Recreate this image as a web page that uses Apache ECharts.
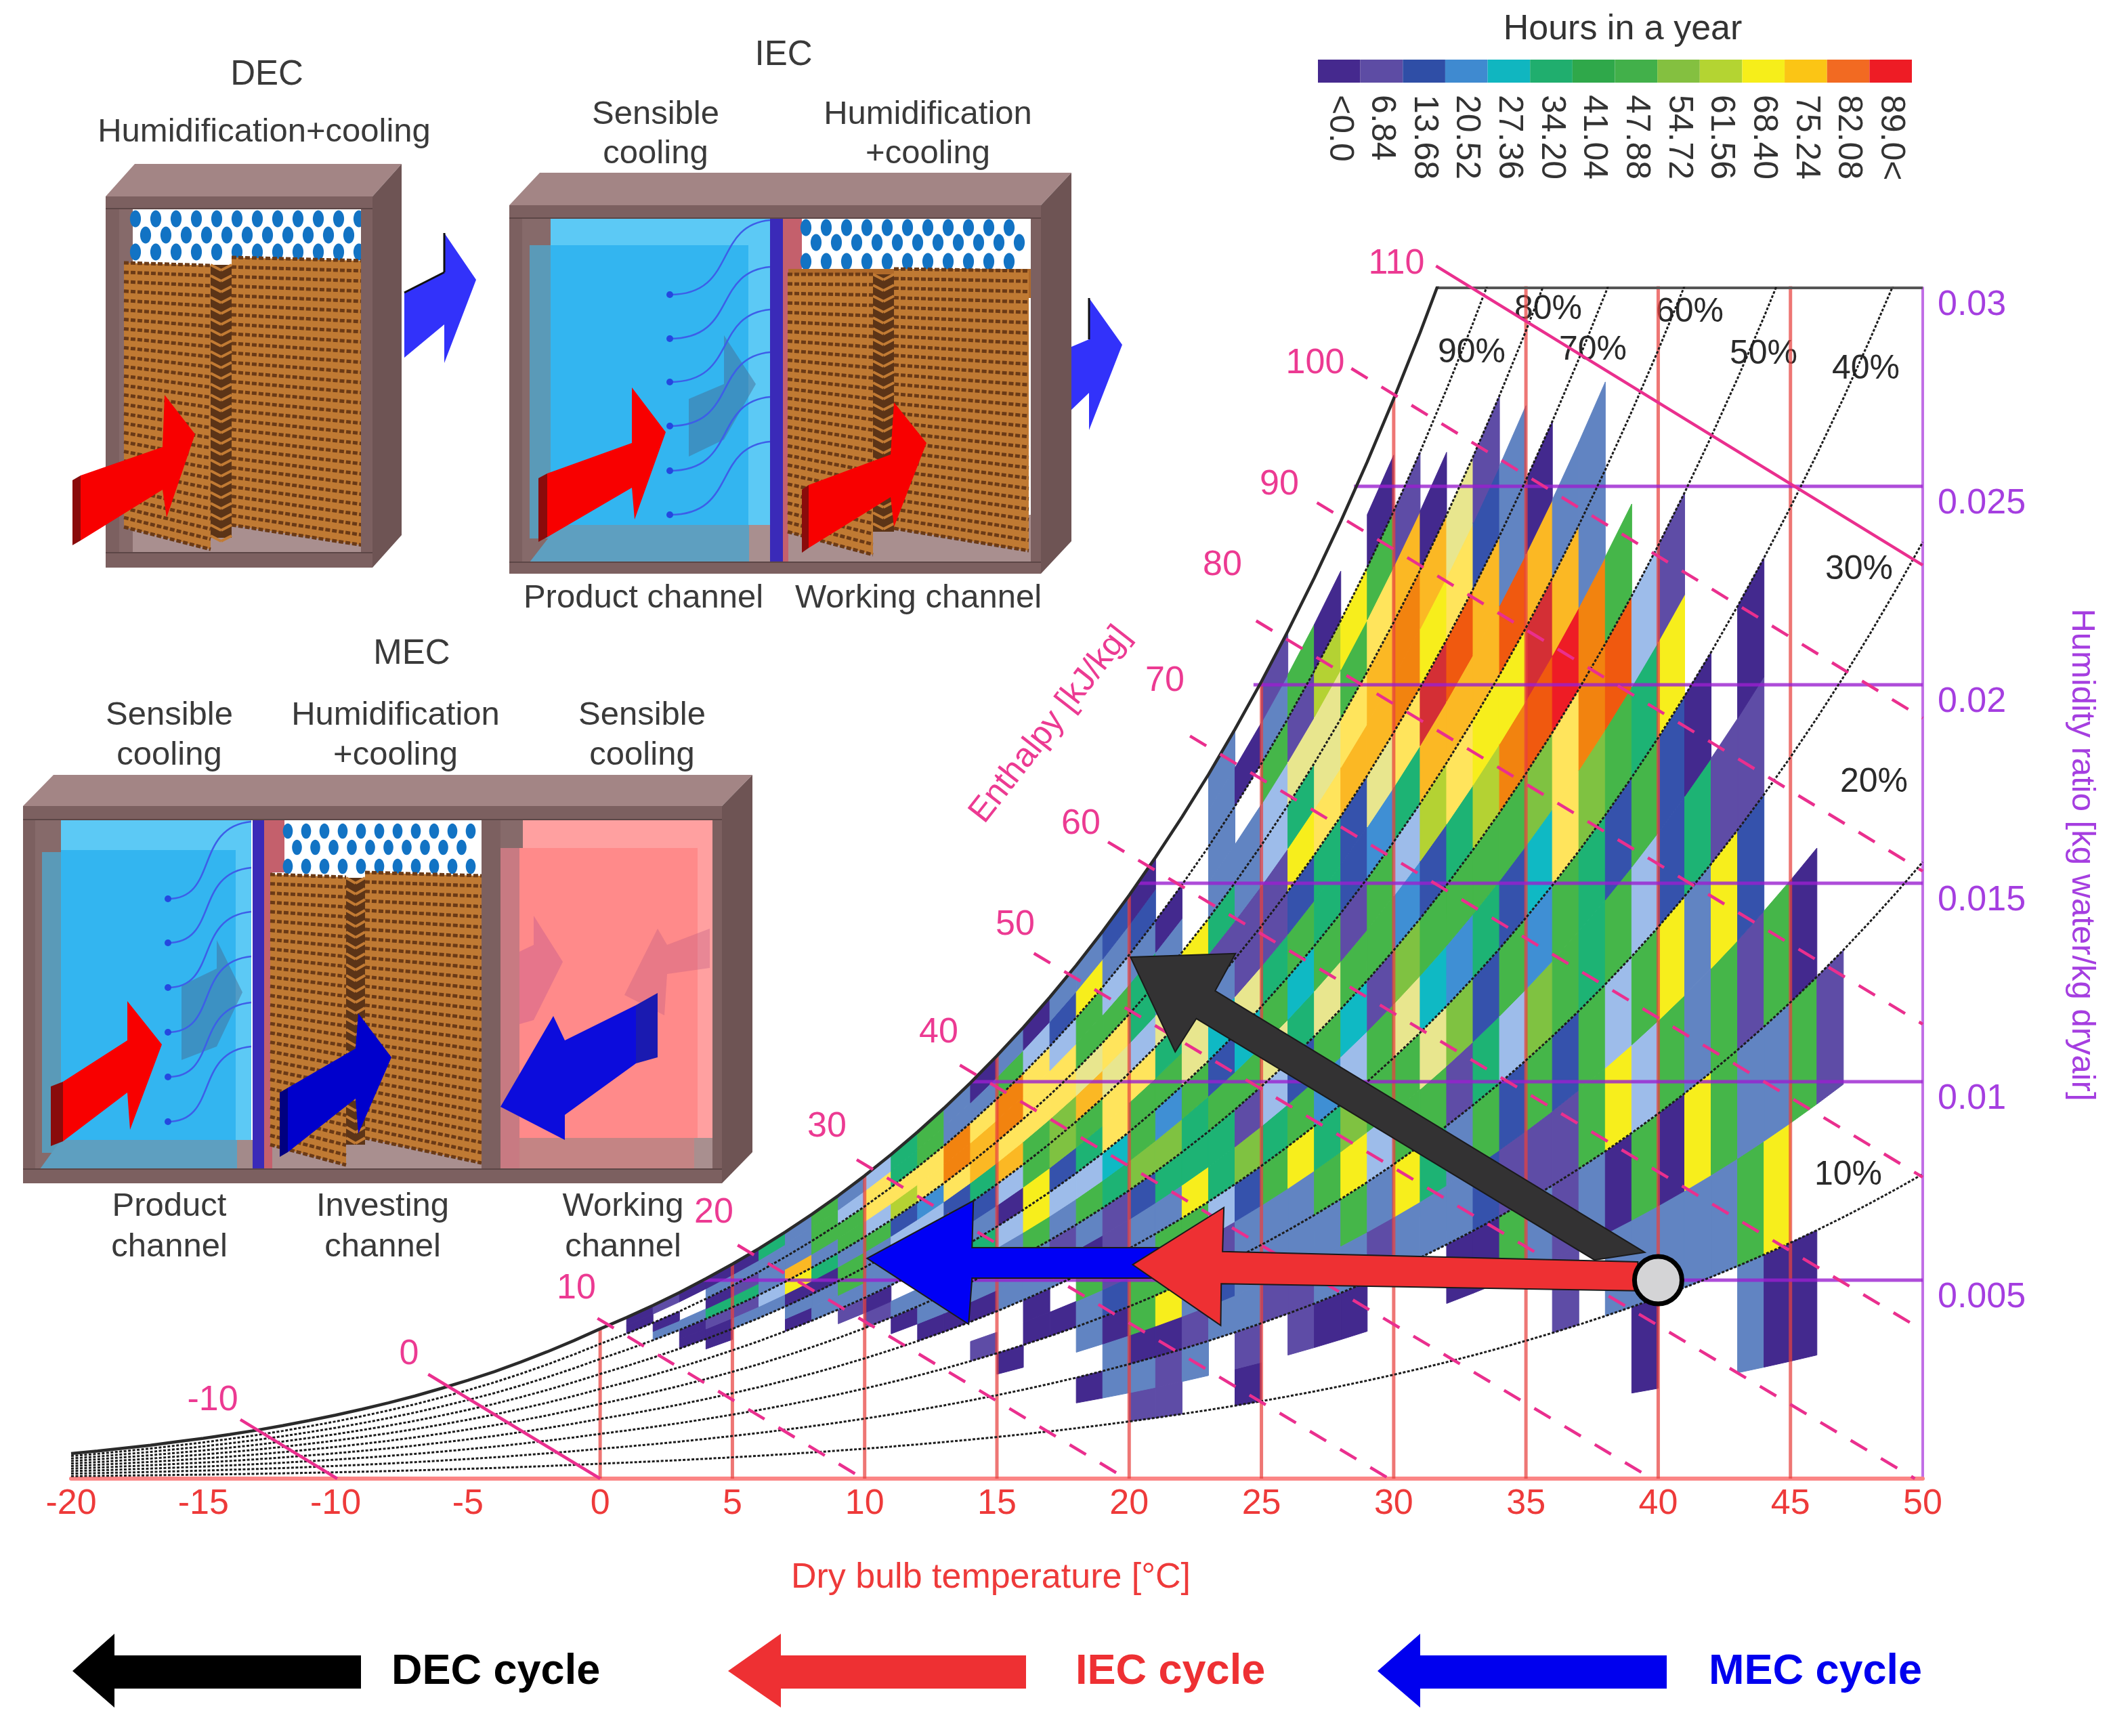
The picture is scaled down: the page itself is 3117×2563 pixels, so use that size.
<!DOCTYPE html>
<html><head><meta charset="utf-8">
<script src="https://cdn.jsdelivr.net/npm/echarts@6/dist/echarts.min.js"></script>
<style>html,body{margin:0;padding:0;background:#fff}#c{width:3117px;height:2563px}</style>
</head><body><div id="c"></div>
<script>
// ---------- axes ----------
const xTickMin = -20, xTickMax = 50, xTickStep = 5;
const yTickMax = 0.03, yTickStep = 0.005;
// saturation vapour pressure [kPa] at each degree from -20 to 50 (psychrometric table)
const satPressure = [.103,.113,.125,.137,.151,.165,.181,.198,.217,.238,.260,.284,.310,.338,.369,.402,.437,.476,.518,.563,
 .611,.657,.706,.758,.814,.873,.935,1.002,1.073,1.148,1.228,1.313,1.403,1.498,1.599,1.706,1.819,1.938,2.064,2.198,
 2.339,2.488,2.645,2.810,2.985,3.169,3.363,3.567,3.782,4.008,4.246,4.495,4.758,5.034,5.323,5.627,5.945,6.280,6.630,6.997,
 7.381,7.784,8.205,8.646,9.108,9.590,10.094,10.620,11.171,11.745,12.344];
const rhCurves = [10,20,30,40,50,60,70,80,90];
const verticalTemps = [0,5,10,15,20,25,30,35,40,45];
const isoHumidity = [[.005,3.9],[.01,14.05],[.015,20.3],[.02,24.7],[.025,28.5]];
// enthalpy line: [h, starting dry-bulb temperature]
const enthalpyLines = [[-10,-13.6],[0,-6.5],[10,-.1],[20,5.2],[30,9.7],[40,13.6],[50,16.4],[60,19.2],[70,22.3],[80,24.8],[90,27.1],[100,28.4],[110,31.6]];
const solidEnthalpy = [-10,0,110];

// ---------- legend ----------
const legendLabels = ['<0.0','6.84','13.68','20.52','27.36','34.20','41.04','47.88','54.72','61.56','68.40','75.24','82.08','89.0<'];
const legendColors = ['#45298e','#5d4ca4','#2f4ea6','#3f8ad0','#10b6c0','#20ae6e','#2fa84a','#42b04a','#84c040','#b4d432','#f6ee1a','#fbc515','#f26a22','#ee1c25'];

// ---------- heat cells: hours per 5 %RH bin (5-10, 10-15 ... 95-100), one list per 1 degC column ----------
const tempBins = [1,2,3,4,5,6,7,8,9,10,11,12,13,14,15,16,17,18,19,20,21,22,23,24,25,26,27,28,29,30,31,32,33,34,35,36,37,38,39,40,41,42,43,44,45,46];
const hoursByTemp = [
 [0,0,0,0,0,0,0,0,0,0,0,0,0,0,0,0,0,3,3],
 [0,0,0,0,0,0,0,0,0,0,0,0,0,0,0,14,3,0,7],
 [0,0,0,0,0,0,0,0,0,0,0,0,0,3,3,14,0,0,3],
 [0,0,0,0,0,0,0,0,0,0,0,0,3,3,7,33,3,14,3],
 [0,0,0,0,0,0,0,0,0,0,0,0,0,14,7,33,7,14,3],
 [0,0,0,0,0,0,0,0,0,0,0,0,0,14,18,14,14,14,33],
 [0,0,0,0,0,0,0,0,0,0,0,3,14,3,68,74,14,14,14],
 [0,0,0,0,0,0,0,0,0,0,0,14,14,3,33,14,41,41,41],
 [0,0,0,0,0,0,0,0,0,0,7,14,41,41,14,41,41,18,14],
 [0,0,0,0,0,0,0,0,0,7,3,14,14,14,41,18,64,64,18],
 [0,0,0,0,0,0,0,0,3,14,0,14,14,18,10,57,64,33,33],
 [0,0,0,0,0,0,0,3,14,14,14,14,14,18,21,64,64,41,41],
 [0,0,0,0,0,0,0,3,14,14,10,10,10,10,64,78,78,14,14],
 [0,0,0,0,0,7,0,3,14,14,33,14,10,33,74,74,64,14,3],
 [0,0,0,0,3,0,0,14,14,14,18,3,18,74,64,78,78,41,14],
 [0,0,0,0,0,3,3,14,14,41,68,68,41,41,64,64,64,18,3],
 [0,0,0,0,0,3,0,14,7,14,18,10,50,50,64,64,18,10,14],
 [0,0,3,0,14,14,41,3,14,41,18,33,41,74,60,41,41,68,14],
 [0,0,14,14,3,10,7,7,7,33,27,64,64,60,64,41,18,14,10],
 [0,7,14,3,41,41,14,14,10,50,41,41,64,18,33,33,14,10,3],
 [0,7,7,3,68,41,41,14,33,50,21,41,33,60,14,14,3,0,0],
 [0,0,14,7,14,10,41,68,33,33,41,60,60,14,68,0,0,0,0],
 [0,0,0,14,10,7,18,33,33,41,10,27,14,7,33,14,14,14,14],
 [0,3,7,14,14,14,10,50,7,41,27,60,7,7,14,14,0,3,0],
 [0,0,0,7,14,14,41,33,18,60,41,33,7,7,18,18,41,14,7],
 [0,0,7,7,14,14,68,41,10,33,27,41,10,68,33,60,7,41,0],
 [0,0,3,14,14,41,33,21,41,60,41,33,33,64,60,60,57,3,0],
 [0,0,3,14,41,68,50,18,27,41,7,10,10,74,64,41,68,0,0],
 [0,0,0,7,14,18,41,41,7,41,41,21,60,74,74,64,41,3,0],
 [0,0,0,14,68,41,41,60,50,21,18,33,64,78,78,74,7,0,0],
 [0,0,0,14,33,41,60,27,41,10,57,74,85,68,74,3,0,0,0],
 [0,0,3,14,14,7,50,21,41,33,64,74,82,64,60,0,0,0,0],
 [0,0,3,10,41,33,10,33,41,57,68,74,74,10,7,0,0,0,0],
 [0,0,41,7,10,18,41,10,41,78,68,82,14,14,0,0,0,0,0],
 [0,0,14,7,41,50,21,27,50,82,85,74,3,0,0,0,0,0,0],
 [0,7,7,7,10,41,41,64,64,89,74,14,0,0,0,0,0,0,0],
 [0,0,14,41,41,33,33,50,78,78,14,14,0,0,0,0,0,0,0],
 [0,14,3,68,18,41,10,41,82,41,0,0,0,0,0,0,0,0,0],
 [3,14,41,18,41,18,41,33,18,0,0,0,0,0,0,0,0,0,0],
 [0,14,3,41,68,10,10,68,7,0,0,0,0,0,0,0,0,0,0],
 [0,14,68,14,14,33,3,0,0,0,0,0,0,0,0,0,0,0,0],
 [0,14,41,41,68,7,0,0,0,0,0,0,0,0,0,0,0,0,0],
 [14,41,14,7,10,7,3,0,0,0,0,0,0,0,0,0,0,0,0],
 [3,68,14,41,0,0,0,0,0,0,0,0,0,0,0,0,0,0,0],
 [3,0,41,3,0,0,0,0,0,0,0,0,0,0,0,0,0,0,0],
 [0,0,7,0,0,0,0,0,0,0,0,0,0,0,0,0,0,0,0]
];
const hourBreaks = [5,9,12,16,20,24,30,37,45,54,59,62,66,71,76,80,84,87];
const hourColors = ['#43298e','#5e4ca6','#3552ac','#6184c2','#9dbcea','#3f8fd4','#0fb9c4','#1db374','#45b649','#7fc241','#b4d233','#e8e68e','#ffe45c','#f7ee1c','#fbb824','#f2830f','#f0590f','#d42f35','#ee1c25'];

// ---------- cycle arrows on the chart: [dry-bulb, humidity ratio] ----------
const decArrow = [[20.05,.01314],[24.02,.01323],[23.25,.01229],[39.49,.0057],[37.59,.00551],[22.54,.01159],[21.74,.01075]];
const mecArrow = [[10.09,.00555],[14.11,.007],[14.06,.00582],[21.36,.00582],[21.36,.00505],[14.06,.00505],[13.93,.00389]];
const iecArrow = [[20.13,.00539],[23.58,.00683],[23.53,.00572],[39.23,.00546],[39.23,.00473],[23.48,.00491],[23.46,.00386]];
const startPoint = [40,.005];

// ---------- helpers ----------
const FONT = '"Liberation Sans",Arial,sans-serif';
const P = 101.325;
const wOf = (T,rh)=>{const pv=satPressure[Math.round(T)+20]*rh/100;return .622*pv/(P-pv);};
const colorOf = v=>{let i=0;while(i<hourBreaks.length&&v>=hourBreaks[i])i++;return hourColors[i];};
const tempsAll = satPressure.map((_,i)=>i-20);

const cells=[];
hoursByTemp.forEach((col,c)=>col.forEach((h,b)=>{if(h>0)cells.push([tempBins[c],b,h]);}));

const series=[];
series.push({type:'custom',z:2,silent:true,data:cells,encode:{x:0},clip:false,
 renderItem:(p,api)=>{
  const T=api.value(0),b=api.value(1),h=api.value(2),r0=5+5*b,r1=r0+5;
  const pts=[[T,wOf(T,r0)],[T+1,wOf(T+1,r0)],[T+1,wOf(T+1,r1)],[T,wOf(T,r1)]].map(q=>api.coord(q));
  const col=colorOf(h);
  return {type:'polygon',shape:{points:pts},style:{fill:col,stroke:col,lineWidth:1}};
 }});
const ln=(data,color,width,type,z,clip,op)=>({type:'line',data,symbol:'none',silent:true,z,clip,animation:false,
  lineStyle:{color,width,type:type||'solid',opacity:op==null?1:op}});
// vertical dry-bulb lines
verticalTemps.forEach(t=>series.push(ln([[t,0],[t,wOf(t,100)]],'#e8413f',5,'solid',3,true,.72)));
// humidity-ratio lines
isoHumidity.forEach(d=>series.push(ln([[d[1],d[0]],[50,d[0]]],'#9a1fd0',5,'solid',3,true,.8)));
series.push(ln([[31.6,.03],[50,.03]],'#555',4,'solid',3,false));
// RH curves
rhCurves.forEach(r=>series.push(ln(tempsAll.map(t=>[t,wOf(t,r)]),'#1c1c1c',3,[4,2.5],4,true)));
series.push(ln(tempsAll.map(t=>[t,wOf(t,100)]),'#2a2a2a',4.5,'solid',4,true));
// enthalpy lines
const wFromH=(h,T)=>(h-1.006*T)/(2501+1.86*T);
enthalpyLines.forEach(([h,t0])=>{
 const endT = h<=50? h/1.006 : 50;
 series.push(ln([[t0,wFromH(h,t0)],[endT,Math.max(0,wFromH(h,endT))]],'#ea2f8e',4.5,solidEnthalpy.includes(h)?'solid':[28,24],5,false));
});
// arrows
[[decArrow,'#333233'],[mecArrow,'#0000f5'],[iecArrow,'#ee3033']].forEach(([pts,col],i)=>{
 series.push({type:'custom',z:6+i,silent:true,clip:false,data:[[pts[0][0],pts[0][1]]],encode:{x:0,y:1},
  renderItem:(p,api)=>({type:'polygon',shape:{points:pts.map(q=>api.coord(q))},style:{fill:col,stroke:'#1a1a1a',lineWidth:2}})});
});
series.push({type:'scatter',z:10,silent:true,data:[startPoint],symbolSize:70,itemStyle:{color:'#d4d4d6',borderColor:'#000',borderWidth:7,opacity:1}});
// colour legend
series.push({type:'bar',xAxisIndex:1,yAxisIndex:1,barWidth:'100%',silent:true,
 data:legendColors.map(c=>({value:1,itemStyle:{color:c}}))});

// ---------- graphic: texts & schematic illustrations ----------
const g=[];
const text=(x,y,s,size,color,o={})=>g.push({type:'text',x,y,rotation:o.rot||0,silent:true,
  style:{text:s,x:0,y:0,align:o.align||'center',verticalAlign:'middle',font:`${o.bold?'bold ':''}${size}px ${FONT}`,fill:color}});
const poly=(pts,fill)=>g.push({type:'polygon',silent:true,shape:{points:pts},style:{fill}});
const rect=(x0,y0,x1,y1,fill)=>g.push({type:'rect',silent:true,shape:{x:x0,y:y0,width:x1-x0,height:y1-y0},style:{fill}});
const seg=(x0,y0,x1,y1,col,w,dash)=>g.push({type:'line',silent:true,shape:{x1:x0,y1:y0,x2:x1,y2:y1},style:{stroke:col,lineWidth:w,lineDash:dash||null}});

const WOOD='#7c6060',WOODTOP='#a38585',WOODSIDE='#6e5454',FLOOR='#a98f8f';
function frameBack(x0,y0,x1,y1,dx,dy){
 poly([[x0,y0],[x0+dx,y0-dy],[x1+dx,y0-dy],[x1,y0]],WOODTOP);
 poly([[x1,y0],[x1+dx,y0-dy],[x1+dx,y1-dy],[x1,y1]],WOODSIDE);
 rect(x0,y0,x1,y1,'#fff');
}
function frameFront(x0,y0,x1,y1,tb,bb,lp,rp){
 rect(x0,y0,x1,y0+tb,WOOD);rect(x0,y1-bb,x1,y1,WOOD);rect(x0,y0,x0+lp,y1,WOOD);rect(x1-rp,y0,x1,y1,WOOD);
 seg(x0,y0+tb,x1,y0+tb,'#5c4646',2);seg(x0,y1-bb,x1,y1-bb,'#5c4646',2);
}
function drops(x0,x1,rows,step){
 rows.forEach((y,r)=>{for(let x=x0+(r%2?step/2:0);x<=x1;x+=step){
  g.push({type:'ellipse',silent:true,shape:{cx:x,cy:y,rx:step*.27,ry:step*.42},style:{fill:'#1273c4'}});
 }});
}
function pad(tl,tr,br,bl,step){
 poly([tl,tr,br,bl],'#c07a33');
 const n=Math.round((bl[1]-tl[1])/step);
 for(let i=0;i<=n;i++){
  const f=i/n,xa=tl[0]+(bl[0]-tl[0])*f,ya=tl[1]+(bl[1]-tl[1])*f,xb=tr[0]+(br[0]-tr[0])*f,yb=tr[1]+(br[1]-tr[1])*f;
  seg(xa,ya,xb,yb,'#6b3a16',step*.36,[7,3]);
 }
}
function fold(x0,x1,y0,y1){
 rect(x0,y0,x1,y1,'#5c3417');
 for(let y=y0;y<y1;y+=16){seg(x0,y,x0+(x1-x0)*.5,y+8,'#c27b34',4);seg(x0+(x1-x0)*.5,y+8,x1,y,'#c27b34',4);}
}
function arrow3d(p,fill,dark,w){
 poly([p[0],[p[0][0]+w,p[0][1]-7],[p[6][0]+w,p[6][1]-7],p[6]],dark);
 poly([[p[0][0]+w,p[0][1]-7],p[1],p[2],p[3],p[4],p[5],[p[6][0]+w,p[6][1]-7]],fill);
}
function waves(xd,xe,ys,ye){
 ys.forEach((y0,i)=>{const y1=ye[i];
  g.push({type:'bezierCurve',silent:true,shape:{x1:xd,y1:y0,cpx1:xd-85,cpy1:y0+8,cpx2:xd-48,cpy2:y1,x2:xe,y2:y1},style:{stroke:'#3d5ee8',lineWidth:2.5,fill:'none'}});
  g.push({type:'circle',silent:true,shape:{cx:xe,cy:y1,r:5},style:{fill:'#2448e0'}});
 });
}
// DEC
frameBack(156,290,550,838,43,48);
rect(176,307,196,816,'#866a6a');rect(196,307,232,385,'#866a6a');
rect(196,760,535,816,FLOOR);
rect(196,307,535,385,'#fff');drops(200,530,[323,347,372],30);
pad([342,380],[536,385],[536,805],[342,775],14);
fold(311,342,391,794);
pad([183,388],[311,392],[311,811],[183,778],14);
frameFront(156,290,550,838,18,22,20,17);
arrow3d([[107,709],[240,660],[243,583],[288,641],[246,764],[240,723],[107,805]],'#f80000','#8a0b0b',12);
poly([[597,432],[656,402],[656,344],[703,413],[656,536],[656,479],[597,528]],'#3232fa');
seg(597,432,656,402,'#111',3);seg(656,402,656,344,'#111',3);
text(394,111,'DEC',51,'#3a3a3a');text(390,195,'Humidification+cooling',49,'#3a3a3a');

// IEC
frameBack(752,303,1537,847,45,48);
rect(771,322,813,830,'#866a6a');
rect(1106,775,1137,830,FLOOR);
rect(813,322,1137,775,'#33b5f0');rect(813,322,1137,362,'#5cc9f5');rect(1105,322,1137,775,'#5cc9f5');
rect(782,362,813,795,'#5a9ab8');
poly([[782,830],[813,790],[1106,790],[1106,830]],'#5e9fc0');rect(813,775,1106,790,'#5e9fc0');
poly([[1017,589],[1069,567],[1069,495],[1116,567],[1069,649],[1017,674]],'rgba(70,110,150,.5)');
waves(1137,989,[325,394,457,520,586,652],[435,500,564,629,695,760]);
rect(1137,322,1156,830,'#3a2ab8');rect(1156,322,1164,830,'#c4606c');
rect(1164,322,1522,397,'#fff');rect(1164,322,1184,397,'#c4606c');
drops(1190,1518,[336,358,386],30);
rect(1164,760,1522,830,FLOOR);rect(1164,397,1522,440,'#b06a2a');
pad([1320,397],[1519,400],[1519,813],[1320,780],14);
fold(1289,1320,405,785);
pad([1163,405],[1289,405],[1289,819],[1163,785],14);
frameFront(752,303,1537,847,19,17,19,15);
arrow3d([[795,706],[933,654],[933,572],[983,638],[937,767],[933,720],[795,800]],'#f80000','#8a0b0b',13);
arrow3d([[1184,723],[1315,671],[1320,594],[1368,654],[1320,778],[1315,734],[1184,816]],'#f80000','#8a0b0b',10);
poly([[1582,512],[1608,501],[1608,440],[1657,509],[1608,635],[1608,580],[1582,605]],'#3232fa');
seg(1608,501,1608,440,'#111',3);
text(1157,82,'IEC',51,'#3a3a3a');
text(968,169,'Sensible',49,'#3a3a3a');text(968,227,'cooling',49,'#3a3a3a');
text(1370,169,'Humidification',49,'#3a3a3a');text(1370,227,'+cooling',49,'#3a3a3a');
text(950,883,'Product channel',49,'#3a3a3a');text(1356,883,'Working channel',49,'#3a3a3a');

// MEC
frameBack(34,1190,1066,1747,45,46);
rect(52,1210,90,1726,'#866a6a');
rect(90,1210,371,1683,'#33b5f0');rect(90,1210,371,1255,'#5cc9f5');rect(348,1210,371,1683,'#5cc9f5');
rect(62,1258,90,1702,'#5a9ab8');
poly([[59,1726],[90,1683],[350,1683],[350,1726]],'#5e9fc0');rect(350,1683,373,1726,'#a38a8a');
poly([[268,1455],[320,1430],[320,1388],[358,1465],[320,1545],[268,1565]],'rgba(70,110,150,.5)');
waves(371,248,[1213,1281,1346,1412,1480,1545],[1327,1392,1458,1524,1590,1656]);
rect(373,1210,390,1726,'#3a2ab8');rect(390,1210,402,1726,'#c4606c');
rect(402,1210,711,1288,'#fff');rect(402,1210,420,1288,'#c4606c');
drops(425,708,[1227,1251,1279],27);
rect(402,1670,711,1726,FLOOR);
pad([539,1288],[711,1293],[711,1717],[539,1680],14);
fold(511,539,1296,1690);
pad([399,1291],[511,1295],[511,1720],[399,1690],14);
rect(711,1210,739,1726,WOOD);
rect(739,1210,1052,1726,'#ff8a8a');rect(739,1210,1052,1252,'#ffa0a0');rect(1030,1210,1052,1726,'#ffa0a0');
rect(739,1210,772,1252,'#866a6a');rect(739,1252,767,1726,'#c87a82');
rect(767,1680,1052,1726,'#c48484');rect(1025,1680,1052,1726,'#a98f8f');
poly([[767,1405],[788,1395],[788,1352],[831,1420],[788,1506],[767,1512]],'rgba(200,90,140,.45)');
poly([[1048,1371],[985,1395],[971,1371],[922,1469],[981,1499],[985,1438],[1048,1429]],'rgba(190,90,130,.35)');
frameFront(34,1190,1066,1747,20,21,18,14);
arrow3d([[75,1604],[188,1536],[188,1478],[239,1542],[192,1668],[188,1613],[75,1692]],'#f80000','#8a0b0b',18);
arrow3d([[413,1613],[525,1548],[529,1496],[578,1561],[529,1674],[525,1622],[413,1708]],'#0000cc','#000080',12);
poly([[739,1634],[817,1500],[834,1536],[939,1484],[939,1570],[834,1646],[834,1683]],'#0c0cdc');
poly([[939,1484],[971,1466],[971,1561],[939,1570]],'#1a1ab0');
text(608,966,'MEC',51,'#3a3a3a');
text(250,1056,'Sensible',49,'#3a3a3a');text(250,1115,'cooling',49,'#3a3a3a');
text(584,1056,'Humidification',49,'#3a3a3a');text(584,1115,'+cooling',49,'#3a3a3a');
text(948,1056,'Sensible',49,'#3a3a3a');text(948,1115,'cooling',49,'#3a3a3a');
text(250,1781,'Product',49,'#3a3a3a');text(250,1841,'channel',49,'#3a3a3a');
text(565,1781,'Investing',49,'#3a3a3a');text(565,1841,'channel',49,'#3a3a3a');
text(920,1781,'Working',49,'#3a3a3a');text(920,1841,'channel',49,'#3a3a3a');

// chart texts
const PINK='#ec3a92';
[[-10,314,2068],[0,604,2000],[10,851,1903],[20,1054,1791],[30,1221,1664],[40,1386,1525],[50,1499,1366],[60,1596,1217],[70,1720,1006],[80,1805,835],[90,1889,716],[100,1942,537],[110,2062,390]]
 .forEach(([v,x,y])=>text(x,y,String(v),52,PINK));
text(1551,1070,'Enthalpy [kJ/kg]',50,PINK,{rot:52*Math.PI/180});
[['90%',2173,521],['80%',2286,457],['70%',2352,517],['60%',2495,461],['50%',2604,523],['40%',2755,545],['30%',2745,841],['20%',2767,1155],['10%',2729,1735]]
 .forEach(([s,x,y])=>text(x,y,s,50,'#2a2a2a'));
text(1463,2330,'Dry bulb temperature [°C]',52,'#ee3a3a');
text(3074,1262,'Humidity ratio [kg water/kg dryair]',49,'#a53ee0',{rot:-Math.PI/2});
text(2396,44,'Hours in a year',52,'#333');

// bottom legend
function legArrow(tip,neck,tail,col){poly([[tip,2467],[neck,2412],[neck,2444],[tail,2444],[tail,2493],[neck,2493],[neck,2521]],col);}
legArrow(107,169,533,'#000');text(578,2469,'DEC cycle',63,'#000',{bold:true,align:'left'});
legArrow(1075,1153,1515,'#ee3033');text(1588,2469,'IEC cycle',63,'#ee3033',{bold:true,align:'left'});
legArrow(2034,2097,2461,'#0000ee');text(2523,2469,'MEC cycle',63,'#0000ee',{bold:true,align:'left'});

const chart=echarts.init(document.getElementById('c'),null,{renderer:'canvas',width:3117,height:2563});
chart.setOption({
 animation:false,backgroundColor:'#fff',textStyle:{fontFamily:FONT},
 grid:[{left:105,top:425,width:2734,height:1758,containLabel:false},{left:1946,top:88,width:877,height:34}],
 xAxis:[{type:'value',min:xTickMin,max:xTickMax,interval:xTickStep,gridIndex:0,splitLine:{show:false},axisTick:{show:false},
   axisLine:{onZero:false,lineStyle:{color:'#fb8585',width:6}},
   axisLabel:{color:'#ee3a3a',fontSize:52,margin:12,fontFamily:FONT}},
  {type:'category',gridIndex:1,data:legendLabels,axisTick:{show:false},axisLine:{show:false},
   axisLabel:{interval:0,rotate:-90,color:'#333',fontSize:50,margin:18,fontFamily:FONT}}],
 yAxis:[{type:'value',min:0,max:yTickMax,interval:yTickStep,position:'right',gridIndex:0,splitLine:{show:false},axisTick:{show:false},
   axisLine:{show:true,onZero:false,lineStyle:{color:'#c16fe6',width:4}},
   axisLabel:{color:'#a53ee0',fontSize:52,margin:22,fontFamily:FONT,verticalAlign:'top',showMinLabel:false,formatter:v=>String(+v.toFixed(3))}},
  {type:'value',gridIndex:1,min:0,max:1,show:false}],
 series,
 graphic:{elements:g}
});
</script></body></html>
